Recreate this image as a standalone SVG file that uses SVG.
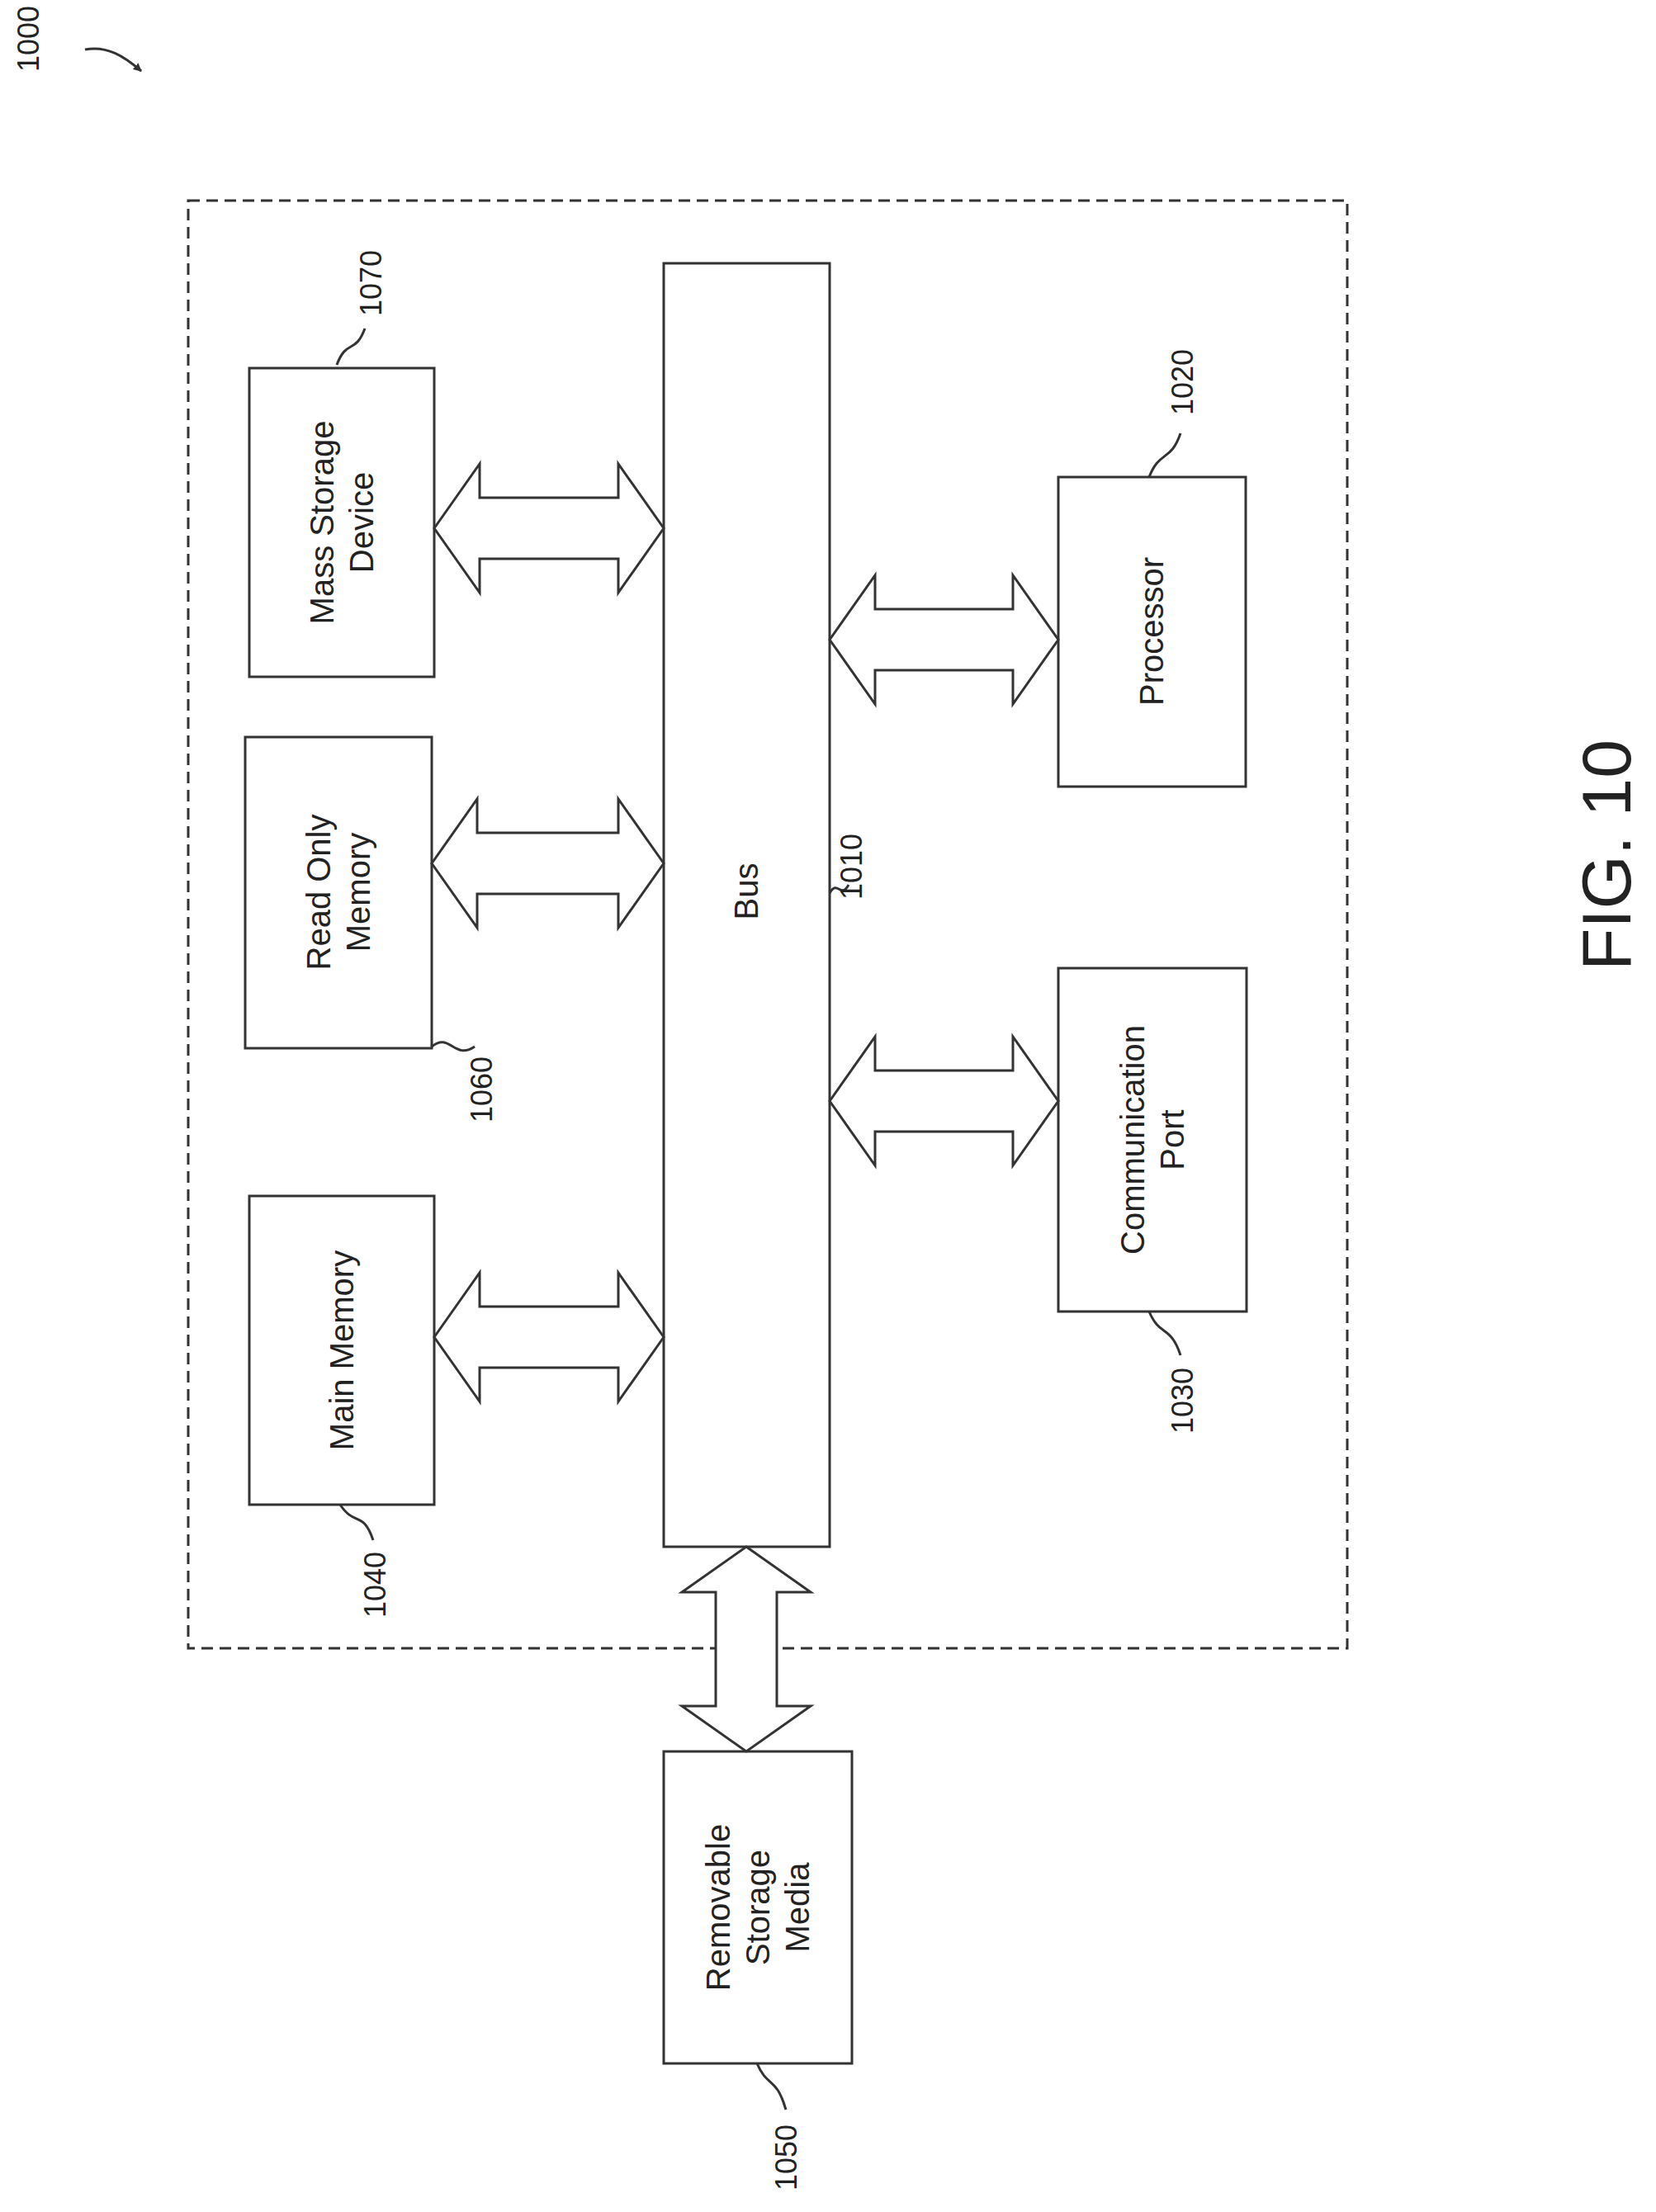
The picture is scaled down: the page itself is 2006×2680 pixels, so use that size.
<svg xmlns="http://www.w3.org/2000/svg" width="2006" height="2680" viewBox="0 0 2006 2680">
<style>
.b{fill:#fff;stroke:#333;stroke-width:3}
.t{font-family:"Liberation Sans",Arial,sans-serif;font-size:40px;fill:#222;text-anchor:middle;dominant-baseline:central}
.l{font-family:"Liberation Sans",Arial,sans-serif;font-size:36px;fill:#222;text-anchor:middle;dominant-baseline:central}
.c{fill:none;stroke:#333;stroke-width:3}
.a{fill:#fff;stroke:#333;stroke-width:3;stroke-linejoin:miter}
</style>
<defs>
<marker id="ah" markerWidth="10" markerHeight="10" refX="9" refY="5" orient="auto" markerUnits="userSpaceOnUse" viewBox="0 0 10 10"><path d="M0,0 L10,5 L0,10 z" fill="#333"/></marker>
</defs>
<rect x="228" y="243" width="1404" height="1754" fill="none" stroke="#333" stroke-width="3" stroke-dasharray="14,8"/>
<g id="bus"><rect class="b" x="804" y="319" width="201" height="1555"/><text class="t" transform="translate(904,1080) rotate(-90)">Bus</text></g>
<g id="mass"><rect class="b" x="302" y="446" width="224" height="374"/><text class="t" transform="translate(414,633) rotate(-90)"><tspan x="0" dy="-24">Mass Storage</tspan><tspan x="0" dy="48">Device</tspan></text></g>
<g id="rom"><rect class="b" x="297" y="893" width="226" height="377"/><text class="t" transform="translate(410,1081) rotate(-90)"><tspan x="0" dy="-24">Read Only</tspan><tspan x="0" dy="48">Memory</tspan></text></g>
<g id="main"><rect class="b" x="302" y="1449" width="224" height="374"/><text class="t" transform="translate(414,1636) rotate(-90)">Main Memory</text></g>
<g id="proc"><rect class="b" x="1282" y="578" width="227" height="375"/><text class="t" transform="translate(1395,765) rotate(-90)">Processor</text></g>
<g id="comm"><rect class="b" x="1282" y="1173" width="228" height="416"/><text class="t" transform="translate(1396,1381) rotate(-90)"><tspan x="0" dy="-24">Communication</tspan><tspan x="0" dy="48">Port</tspan></text></g>
<g id="rem"><rect class="b" x="804" y="2122" width="228" height="378"/><text class="t" transform="translate(918,2311) rotate(-90)"><tspan x="0" dy="-48">Removable</tspan><tspan x="0" dy="48">Storage</tspan><tspan x="0" dy="48">Media</tspan></text></g>
<g id="connectors">
<path class="a" d="M526,640 L581,562 L581,603 L749,603 L749,562 L804,640 L749,718 L749,677 L581,677 L581,718 Z"/>
<path class="a" d="M523,1046 L578,968 L578,1009 L749,1009 L749,968 L804,1046 L749,1124 L749,1083 L578,1083 L578,1124 Z"/>
<path class="a" d="M526,1620 L581,1542 L581,1583 L749,1583 L749,1542 L804,1620 L749,1698 L749,1657 L581,1657 L581,1698 Z"/>
<path class="a" d="M1005,775 L1060,697 L1060,738 L1227,738 L1227,697 L1282,775 L1227,853 L1227,812 L1060,812 L1060,853 Z"/>
<path class="a" d="M1005,1334 L1060,1256 L1060,1297 L1227,1297 L1227,1256 L1282,1334 L1227,1412 L1227,1371 L1060,1371 L1060,1412 Z"/>
<path class="a" d="M904,1874 L982,1929 L941,1929 L941,2067 L982,2067 L904,2122 L826,2067 L867,2067 L867,1929 L826,1929 Z"/>
<path class="c" d="M408,442 C420,410 430,430 442,398"/>
<path class="c" d="M523,1268 C545,1250 550,1285 575,1268"/>
<path class="c" d="M412,1823 C430,1850 440,1830 452,1866"/>
<path class="c" d="M1005,1082 C1015,1065 1018,1090 1028,1072"/>
<path class="c" d="M1392,578 C1405,545 1418,560 1430,525"/>
<path class="c" d="M1392,1589 C1405,1620 1418,1605 1430,1642"/>
<path class="c" d="M917,2500 C930,2530 940,2515 952,2556"/>
<path class="c" d="M103,60 C130,55 150,68 171,86" marker-end="url(#ah)"/>
</g>
<g id="labels">
<text class="l" transform="translate(449,343) rotate(-90)">1070</text>
<text class="l" transform="translate(583,1320) rotate(-90)">1060</text>
<text class="l" transform="translate(454,1920) rotate(-90)">1040</text>
<text class="l" transform="translate(1031,1050) rotate(-90)">1010</text>
<text class="l" transform="translate(1432,463) rotate(-90)">1020</text>
<text class="l" transform="translate(1432,1697) rotate(-90)">1030</text>
<text class="l" transform="translate(952,2614) rotate(-90)">1050</text>
<text class="l" transform="translate(34,47) rotate(-90)">1000</text>
<text class="t" style="font-size:84px" transform="translate(1946,1036) rotate(-90)">FIG. 10</text>
</g>
</svg>
